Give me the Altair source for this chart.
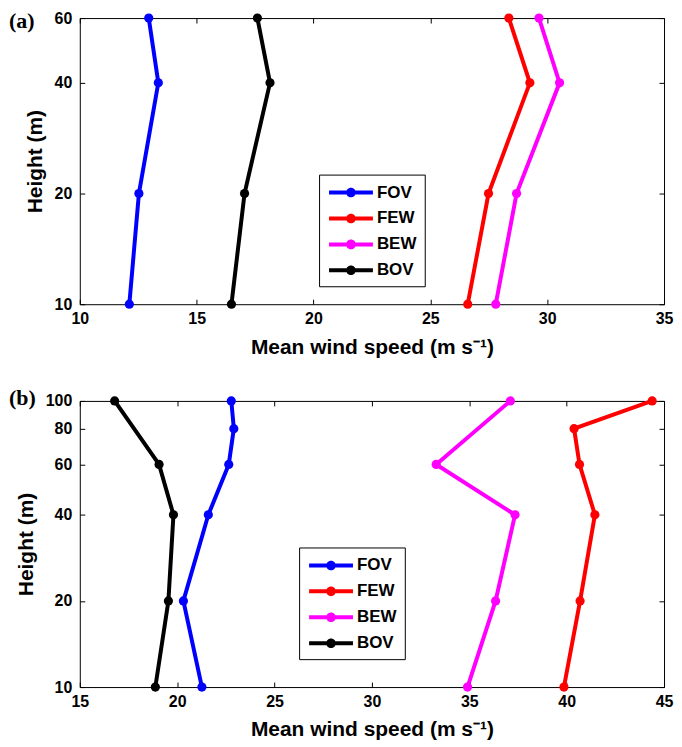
import altair as alt
import pandas as pd

series = ["FOV", "FEW", "BEW", "BOV"]
colors = ["#0000ff", "#ff0000", "#ff00ff", "#000000"]

# panel (a)
a_h = [10, 20, 40, 60]
a_fov = [12.12, 12.53, 13.36, 12.95]
a_few = [26.60, 27.49, 29.26, 28.36]
a_bew = [27.80, 28.69, 30.53, 29.65]
a_bov = [16.49, 17.05, 18.14, 17.60]

# panel (b)
b_fov_h = [10, 20, 40, 60, 80, 100]
b_fov = [21.27, 20.32, 21.60, 22.65, 22.91, 22.78]
b_few_h = [10, 20, 40, 60, 80, 100]
b_few = [39.86, 40.69, 41.45, 40.66, 40.38, 44.39]
b_bew_h = [10, 20, 40, 60, 100]
b_bew = [34.91, 36.35, 37.35, 33.30, 37.11]
b_bov_h = [10, 20, 40, 60, 100]
b_bov = [18.88, 19.55, 19.81, 19.07, 16.79]

a_xticks = [10, 15, 20, 25, 30, 35]
a_yticks = [10, 20, 40, 60]
b_xticks = [15, 20, 25, 30, 35, 40, 45]
b_yticks = [10, 20, 40, 60, 80, 100]


def frame(parts):
    rows = []
    for name, hs, vs in parts:
        for h, v in zip(hs, vs):
            rows.append({"series": name, "height": h, "speed": v})
    return pd.DataFrame(rows)


df_a = frame([("FOV", a_h, a_fov), ("FEW", a_h, a_few), ("BEW", a_h, a_bew), ("BOV", a_h, a_bov)])
df_b = frame([("FOV", b_fov_h, b_fov), ("FEW", b_few_h, b_few), ("BEW", b_bew_h, b_bew), ("BOV", b_bov_h, b_bov)])

SANS = "Liberation Sans"
# line with a dot; drawn wider than the nominal symbol box
SYMBOL = ("M-2.2,-0.2L2.2,-0.2L2.2,0.2L-2.2,0.2Z "
          "M0.48,0A0.48,0.48,0,1,1,-0.48,0A0.48,0.48,0,1,1,0.48,0Z")


def panel(df, xdom, xticks, ydom, yticks, w, h, tag, tagx, tagy, legx, legy):
    xs = alt.Scale(domain=xdom, nice=False, zero=False)
    ys = alt.Scale(type="log", domain=ydom, nice=False)
    common = dict(offset=-5, tickSize=5, domain=False, grid=False, tickColor="black",
                  tickWidth=1, labelFlush=False, labelOverlap=False)
    hidden = dict(title=None, labels=False, minExtent=0, maxExtent=0, **common)
    base = alt.Chart(df)
    lines = base.mark_line(strokeWidth=4).encode(
        x=alt.X("speed:Q", scale=xs,
                axis=alt.Axis(orient="bottom", values=xticks, title="Mean wind speed (m s⁻¹)",
                              labelPadding=6, titlePadding=10, **common)),
        y=alt.Y("height:Q", scale=ys,
                axis=alt.Axis(orient="left", values=yticks, title="Height (m)",
                              labelPadding=8, titlePadding=9, **common)),
        stroke=alt.Stroke("series:N", scale=alt.Scale(domain=series, range=colors), legend=None),
        order="height:Q",
    )
    points = base.mark_point(filled=True, size=85, opacity=1, strokeWidth=0).encode(
        x=alt.X("speed:Q", scale=xs, axis=alt.Axis(orient="top", values=xticks, **hidden)),
        y=alt.Y("height:Q", scale=ys, axis=alt.Axis(orient="right", values=yticks, **hidden)),
        fill=alt.Fill("series:N", scale=alt.Scale(domain=series, range=colors),
                      legend=alt.Legend(title=None, orient="none", legendX=legx, legendY=legy,
                                        symbolType=SYMBOL, symbolSize=400, symbolStrokeWidth=0,
                                        symbolOffset=14, labelOffset=16,
                                        labelFont=SANS, labelFontSize=17, labelFontWeight="bold",
                                        labelColor="black",
                                        strokeColor="black", fillColor="white",
                                        padding=8, rowPadding=8)),
    )
    tagtext = alt.Chart(pd.DataFrame({"t": [tag]})).mark_text(
        font="Liberation Serif", fontSize=22, fontWeight="bold", align="left",
        baseline="middle", color="black"
    ).encode(x=alt.value(tagx), y=alt.value(tagy), text="t:N")
    return alt.layer(lines, points, tagtext).resolve_axis(x="independent", y="independent").properties(
        width=w, height=h)


pa = panel(df_a, [10, 35], a_xticks, [10, 60], a_yticks, 586, 287, "(a)", -71, 3, 240, 157)
pb = panel(df_b, [15, 45], b_xticks, [10, 100], b_yticks, 586, 287, "(b)", -71, -3, 220, 147)

chart = alt.concat(pa, pb, columns=1, spacing=28, align="none").resolve_legend(fill="independent").properties(
    padding={"left": 0, "top": 0, "right": 0, "bottom": 0}
).configure_view(stroke="black", strokeWidth=1).configure_axis(
    labelFont=SANS, labelFontSize=16, labelFontWeight="bold", labelColor="black",
    titleFont=SANS, titleFontSize=21, titleFontWeight="bold", titleColor="black"
)

chart.save("out.html", embed_options={"renderer": "svg", "actions": False})
